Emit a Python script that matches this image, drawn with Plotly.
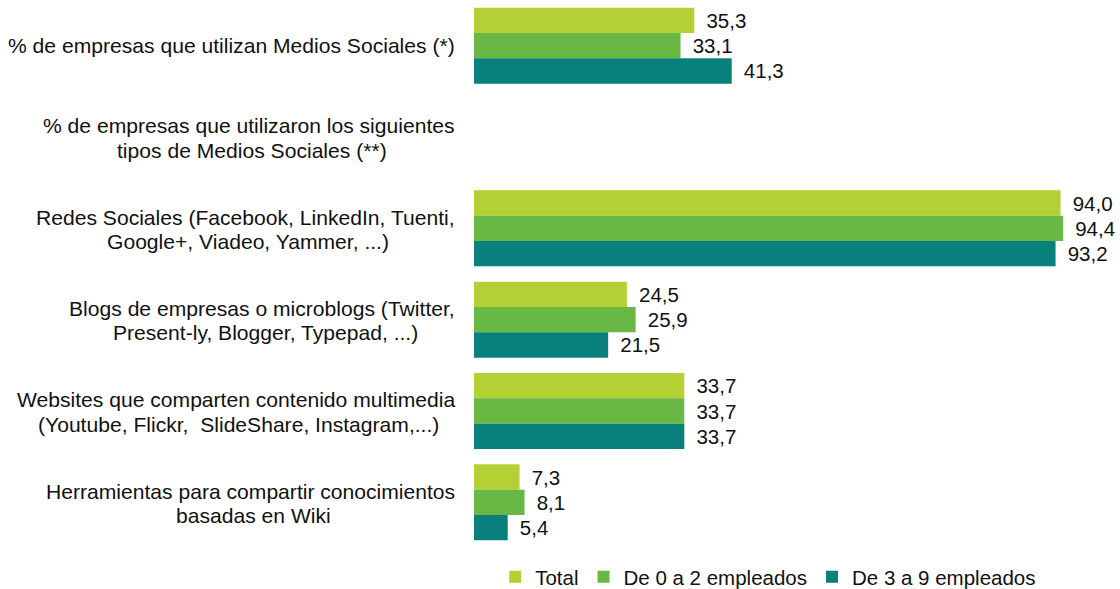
import plotly.graph_objects as go

# Categories (top to bottom) and values per company size
categorias = [
    "% de empresas que utilizan Medios Sociales (*)",
    "% de empresas que utilizaron los siguientes<br>tipos de Medios Sociales (**)",
    "Redes Sociales (Facebook, LinkedIn, Tuenti,<br>Google+, Viadeo, Yammer, ...)",
    "Blogs de empresas o microblogs (Twitter,<br>Present-ly, Blogger, Typepad, ...)",
    "Websites que comparten contenido multimedia<br>(Youtube, Flickr,\u00a0 SlideShare, Instagram,...)",
    "Herramientas para compartir conocimientos<br>basadas en Wiki",
]
series = ["Total", "De 0 a 2 empleados", "De 3 a 9 empleados"]
total = [35.3, None, 94.0, 24.5, 33.7, 7.3]
de_0_a_2 = [33.1, None, 94.4, 25.9, 33.7, 8.1]
de_3_a_9 = [41.3, None, 93.2, 21.5, 33.7, 5.4]

colores = ["#b3d135", "#69b845", "#0a807c"]
FONT = "Liberation Sans, Arial, sans-serif"
LABEL_SIZE = 21.1
LABEL_RIGHT = -17          # px from the plot's left edge to the labels' right edge
# horizontal centre (px from the plot's left edge) of each two-line label,
# so the second line sits centred under the first one
CENTRO_ETIQUETA = [None, -222, -226, -209, -236, -221]
MEDIA_LINEA = 12.2         # half of the label line spacing

fig = go.Figure()
for nombre, valores, color in zip(series, [total, de_0_a_2, de_3_a_9], colores):
    fig.add_trace(go.Bar(
        name=nombre,
        y=categorias,
        x=valores,
        orientation="h",
        marker=dict(color=color, line=dict(width=0)),
        texttemplate="\u00a0\u2006%{x:.1f}",
        textposition="outside",
        textfont=dict(family=FONT, size=20.5, color="#111111"),
        cliponaxis=False,
        constraintext="none",
        hoverinfo="skip",
    ))

# Category labels to the left of the bars, one annotation per text line
for cat, centro in zip(categorias, CENTRO_ETIQUETA):
    lineas = cat.split("<br>")
    comun = dict(x=0, xref="paper", y=cat, yref="y", showarrow=False,
                 yanchor="middle",
                 font=dict(family=FONT, size=LABEL_SIZE, color="#111111"))
    if len(lineas) == 1:
        fig.add_annotation(text=cat, xanchor="right", xshift=LABEL_RIGHT,
                           yshift=0, **comun)
    else:
        fig.add_annotation(text=lineas[0], xanchor="right", xshift=LABEL_RIGHT,
                           yshift=MEDIA_LINEA - 1, **comun)
        fig.add_annotation(text=lineas[1], xanchor="center", xshift=centro,
                           yshift=-MEDIA_LINEA - 1, **comun)

fig.update_layout(
    width=1120, height=589,
    margin=dict(l=474, r=22, t=0, b=41, autoexpand=False),
    paper_bgcolor="white", plot_bgcolor="white",
    barmode="group", bargap=0.168, bargroupgap=0,
    separators=",.",
    font=dict(family=FONT, color="#111111"),
    xaxis=dict(range=[0, 100], visible=False),
    yaxis=dict(
        categoryorder="array", categoryarray=categorias,
        range=[5.5, -0.5], showticklabels=False,
        showgrid=False, zeroline=False, showline=False, ticks="",
    ),
    legend=dict(
        orientation="h", x=0.034, xanchor="left", y=-0.053, yanchor="middle",
        font=dict(family=FONT, size=20.5, color="#111111"),
        bgcolor="rgba(0,0,0,0)", traceorder="normal",
    ),
    showlegend=True,
)

fig.write_html("out.html")
